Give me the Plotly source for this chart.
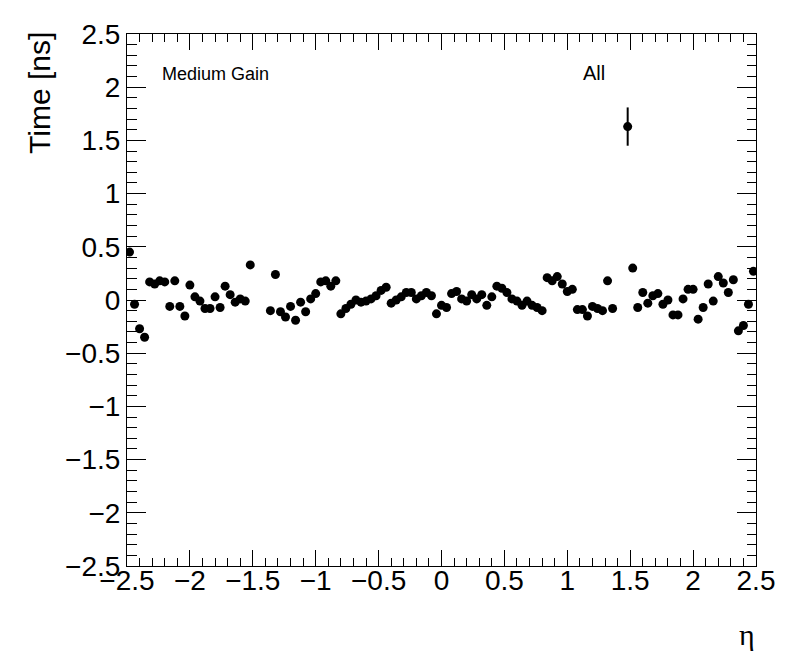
import plotly.graph_objects as go

# Bin centres (eta) of the profile; crack bins without entries are left out
eta = [-2.48, -2.44, -2.40, -2.36, -2.32, -2.28, -2.24, -2.20, -2.16, -2.12,
       -2.08, -2.04, -2.00, -1.96, -1.92, -1.88, -1.84, -1.80, -1.76, -1.72,
       -1.68, -1.64, -1.60, -1.56, -1.52,
       -1.36, -1.32, -1.28, -1.24, -1.20, -1.16, -1.12, -1.08, -1.04, -1.00,
       -0.96, -0.92, -0.88, -0.84, -0.80, -0.76, -0.72, -0.68, -0.64, -0.60,
       -0.56, -0.52, -0.48, -0.44, -0.40, -0.36, -0.32, -0.28, -0.24, -0.20,
       -0.16, -0.12, -0.08, -0.04, 0.00, 0.04, 0.08, 0.12, 0.16, 0.20,
       0.24, 0.28, 0.32, 0.36, 0.40, 0.44, 0.48, 0.52, 0.56, 0.60,
       0.64, 0.68, 0.72, 0.76, 0.80, 0.84, 0.88, 0.92, 0.96, 1.00,
       1.04, 1.08, 1.12, 1.16, 1.20, 1.24, 1.28, 1.32, 1.36,
       1.48, 1.52, 1.56, 1.60, 1.64, 1.68, 1.72, 1.76, 1.80, 1.84,
       1.88, 1.92, 1.96, 2.00, 2.04, 2.08, 2.12, 2.16, 2.20, 2.24,
       2.28, 2.32, 2.36, 2.40, 2.44, 2.48]

time_ns = [0.45, -0.04, -0.27, -0.35, 0.17, 0.15, 0.18, 0.17, -0.06, 0.18,
           -0.06, -0.15, 0.14, 0.03, -0.01, -0.08, -0.08, 0.03, -0.07, 0.13,
           0.05, -0.02, 0.01, -0.01, 0.33,
           -0.10, 0.24, -0.11, -0.16, -0.06, -0.19, -0.02, -0.11, 0.01, 0.06,
           0.17, 0.18, 0.13, 0.18, -0.13, -0.08, -0.04, 0.00, -0.02, -0.01,
           0.01, 0.04, 0.09, 0.12, -0.03, 0.00, 0.03, 0.07, 0.07, 0.01,
           0.04, 0.07, 0.04, -0.13, -0.05, -0.07, 0.06, 0.08, 0.01, -0.01,
           0.05, 0.01, 0.05, -0.05, 0.03, 0.13, 0.11, 0.07, 0.01, -0.01,
           -0.05, -0.01, -0.05, -0.07, -0.10, 0.21, 0.18, 0.22, 0.15, 0.08,
           0.10, -0.09, -0.09, -0.15, -0.06, -0.08, -0.10, 0.18, -0.08,
           1.63, 0.30, -0.07, 0.07, -0.03, 0.04, 0.06, -0.04, 0.00, -0.14,
           -0.14, 0.01, 0.10, 0.10, -0.18, -0.07, 0.15, -0.01, 0.22, 0.16,
           0.07, 0.19, -0.29, -0.24, -0.04, 0.27]

time_err = [0.0] * len(time_ns)
time_err[eta.index(1.48)] = 0.18

x_ticks = [-2.5, -2, -1.5, -1, -0.5, 0, 0.5, 1, 1.5, 2, 2.5]
y_ticks = [-2.5, -2, -1.5, -1, -0.5, 0, 0.5, 1, 1.5, 2, 2.5]

fig = go.Figure()
fig.add_trace(go.Scatter(
    x=eta, y=time_ns, mode="markers",
    marker=dict(color="black", size=9),
    error_y=dict(type="data", array=time_err, visible=True,
                 color="black", thickness=2, width=0),
    showlegend=False,
))

axis_common = dict(
    showline=True, linecolor="black", linewidth=1, mirror="allticks",
    ticks="inside", tickcolor="black", tickwidth=1,
    showgrid=False, zeroline=False,
    tickfont=dict(family="Liberation Sans", size=28, color="black"),
)

fig.update_xaxes(range=[-2.5, 2.5], tickvals=x_ticks, ticklen=16,
                 ticklabelstandoff=-11,
                 minor=dict(dtick=0.1, tick0=-2.5, ticks="inside", ticklen=8,
                            tickcolor="black", tickwidth=1, showgrid=False),
                 **axis_common)
fig.update_yaxes(range=[-2.5, 2.5], tickvals=y_ticks, ticklen=19,
                 minor=dict(dtick=0.1, tick0=-2.5, ticks="inside", ticklen=9.5,
                            tickcolor="black", tickwidth=1, showgrid=False),
                 **axis_common)

fig.update_layout(
    width=788, height=664,
    margin=dict(l=119, r=40, t=26, b=106, autoexpand=False),
    paper_bgcolor="white", plot_bgcolor="white",
    font=dict(family="Liberation Sans", color="black"),
    annotations=[
        dict(text="Time [ns]", textangle=-90, xref="paper", yref="paper",
             x=-0.138, y=1.008, xanchor="center", yanchor="top",
             showarrow=False, font=dict(size=30, family="Liberation Sans")),
        dict(text="η", xref="paper", yref="paper", x=0.9857, y=-0.128,
             xanchor="center", yanchor="middle", showarrow=False,
             font=dict(size=30, family="Liberation Serif")),
        dict(text="Medium Gain", xref="paper", yref="paper", x=0.0525, y=0.924,
             xanchor="left", yanchor="middle", showarrow=False,
             font=dict(size=18, family="Liberation Sans")),
        dict(text="All", xref="paper", yref="paper", x=0.7218, y=0.926,
             xanchor="left", yanchor="middle", showarrow=False,
             font=dict(size=20, family="Liberation Sans")),
    ],
)

fig.write_html("out.html")
